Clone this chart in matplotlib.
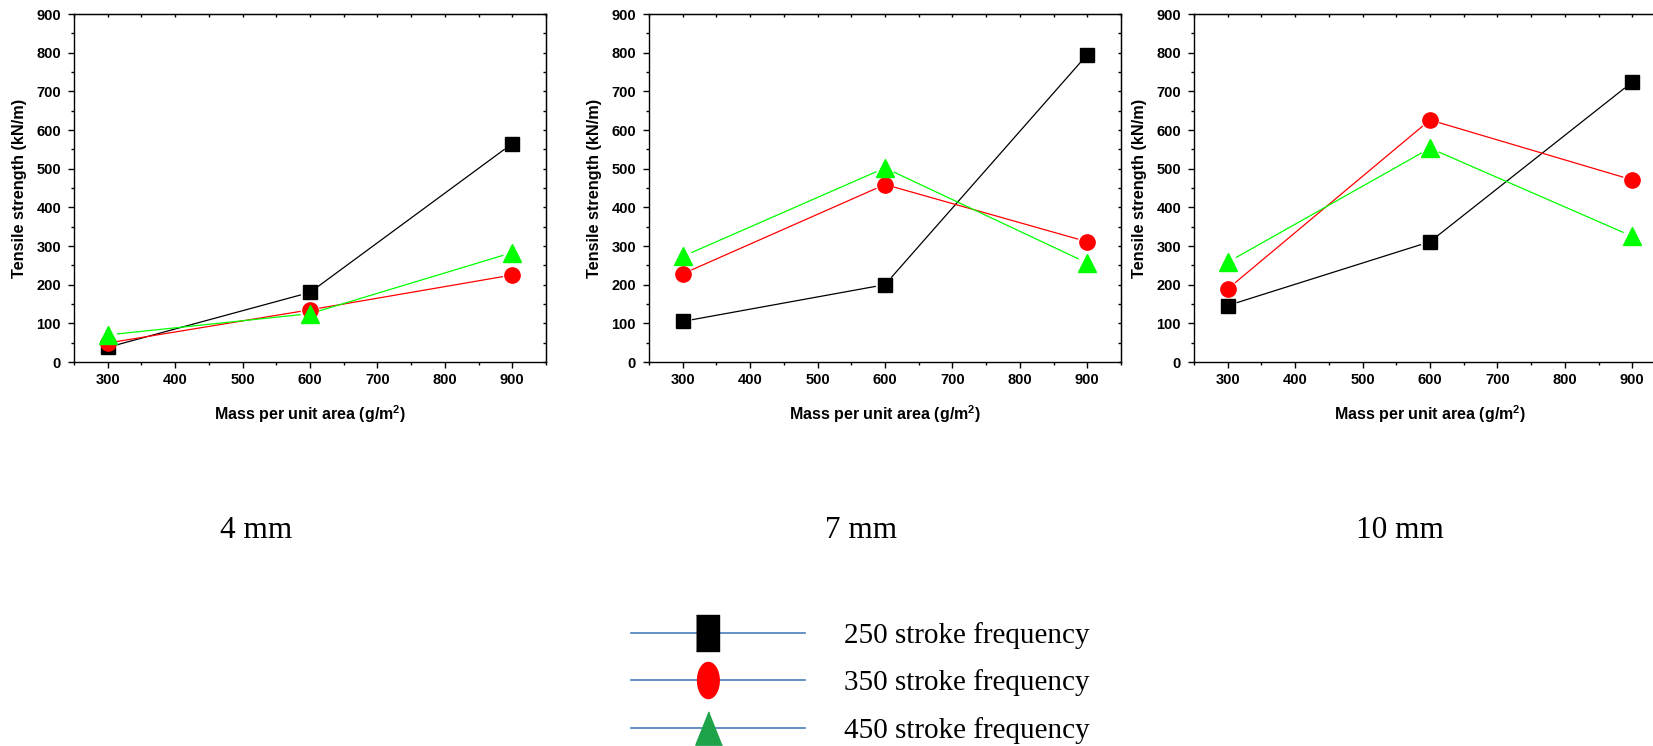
import numpy as np
import matplotlib
matplotlib.use("Agg")
import matplotlib.pyplot as plt
from matplotlib.lines import Line2D
from matplotlib.markers import MarkerStyle
from matplotlib.transforms import Affine2D
from matplotlib.ticker import MultipleLocator

plt.rcParams['font.family'] = ['Liberation Sans', 'DejaVu Sans']
plt.rcParams['mathtext.fontset'] = 'custom'
plt.rcParams['mathtext.rm'] = 'Liberation Sans'
plt.rcParams['mathtext.bf'] = 'Liberation Sans:bold'

# tensile strength (kN/m) vs mass per unit area, one panel per needle depth
mass = [300, 600, 900]
depths = ['4 mm', '7 mm', '10 mm']
freq_labels = ['250 stroke frequency', '350 stroke frequency', '450 stroke frequency']

s250_4mm = [38, 180, 565]
s350_4mm = [49, 135, 225]
s450_4mm = [70, 125, 283]

s250_7mm = [105, 200, 795]
s350_7mm = [228, 459, 311]
s450_7mm = [273, 502, 256]

s250_10mm = [146, 311, 724]
s350_10mm = [189, 626, 471]
s450_10mm = [258, 553, 325]

panels = [
    [s250_4mm, s350_4mm, s450_4mm],
    [s250_7mm, s350_7mm, s450_7mm],
    [s250_10mm, s350_10mm, s450_10mm],
]

colors = ['#000000', '#ff0000', '#00ff00']
markers = ['s', 'o', '^']
msizes = [10, 11, 12.5]

W, H = 1653, 746
fig = plt.figure(figsize=(W / 100, H / 100), dpi=100)

# axes boxes in pixels: left, width
boxes = [(74, 472), (649, 472), (1194, 472)]
ax_bottom, ax_top = 362, 14
title_x = [256, 861, 1400]


def gap_line(ax, x, y, color, gap=10):
    # Origin-style line: segments stop short of the markers
    pts = ax.transData.transform(np.column_stack([x, y]))
    inv = ax.transData.inverted()
    for p0, p1 in zip(pts[:-1], pts[1:]):
        d = p1 - p0
        u = d / np.hypot(*d)
        seg = inv.transform(np.array([p0 + u * gap, p1 - u * gap]))
        ax.plot(seg[:, 0], seg[:, 1], color=color, lw=0.9, zorder=2)


for i, (left, width) in enumerate(boxes):
    ax = fig.add_axes([left / W, 1 - ax_bottom / H, width / W, (ax_bottom - ax_top) / H])
    ax.set_xlim(250, 950)
    ax.set_ylim(0, 900)
    ax.xaxis.set_major_locator(MultipleLocator(100))
    ax.xaxis.set_minor_locator(MultipleLocator(50))
    ax.yaxis.set_major_locator(MultipleLocator(100))
    ax.yaxis.set_minor_locator(MultipleLocator(50))
    ax.set_xticks([300, 400, 500, 600, 700, 800, 900])

    for sp in ax.spines.values():
        sp.set_linewidth(1.0)
    ax.tick_params(which='major', direction='out', length=4.3, width=1.0, pad=5,
                   labelsize=10.5)
    ax.tick_params(axis='x', which='major', pad=3.5)
    ax.tick_params(which='minor', direction='out', length=2.2, width=1.0)
    for lab in ax.get_xticklabels() + ax.get_yticklabels():
        lab.set_fontweight('bold')

    # mirrored inward ticks on top and right
    sx = ax.secondary_xaxis('top')
    sx.xaxis.set_major_locator(MultipleLocator(100))
    sx.xaxis.set_minor_locator(MultipleLocator(50))
    sx.tick_params(which='both', direction='in', length=2.2, width=1.0, labeltop=False)
    sy = ax.secondary_yaxis('right')
    sy.yaxis.set_major_locator(MultipleLocator(100))
    sy.yaxis.set_minor_locator(MultipleLocator(50))
    sy.tick_params(which='both', direction='in', length=2.2, width=1.0, labelright=False)

    for vals, c, m, ms in zip(panels[i], colors, markers, msizes):
        gap_line(ax, mass, vals, c)
        ax.plot(mass, vals, ls='none', marker=m, ms=ms, color=c, mec=c, zorder=3,
                clip_on=False)

    ax.set_ylabel('Tensile strength (kN/m)', fontsize=11.7, fontweight='bold')
    ax.yaxis.set_label_coords(-47 / width, 0.5)
    ax.set_xlabel(r'Mass per unit area (g/m$^{\mathbf{2}}$)', fontsize=11.5,
                  fontweight='bold')
    ax.xaxis.set_label_coords(0.5, -41 / (ax_bottom - ax_top))

    fig.text(title_x[i] / W, 1 - 530 / H, depths[i], ha='center', va='center',
             fontsize=22.5, family='Liberation Serif')

# legend: stretched markers sitting a little left of the middle of blue lines
rect = [(-0.32, -0.5), (0.32, -0.5), (0.32, 0.5), (-0.32, 0.5)]
t = np.linspace(0, 2 * np.pi, 60)
ellipse = list(zip(0.3 * np.cos(t), 0.5 * np.sin(t)))
tri = [(0, 0.5), (-0.4, -0.5), (0.4, -0.5)]
leg_faces = ['#000000', '#ff0000', '#1ea34a']
leg_sizes = [26, 26, 24]
shift = Affine2D().translate(-0.28, 0)
handles = [
    Line2D([], [], color='#4a7ebb', lw=1.2,
           marker=MarkerStyle(mk, transform=shift), ms=ms, mfc=fc, mec=fc)
    for mk, fc, ms in zip([rect, ellipse, tri], leg_faces, leg_sizes)
]
fig.legend(handles, freq_labels, loc='upper left',
           bbox_to_anchor=(631 / W, 1 - 622 / H), frameon=False,
           prop={'family': 'Liberation Serif', 'size': 21},
           handlelength=5.95, handletextpad=1.35, labelspacing=0.7,
           borderpad=0, borderaxespad=0)

fig.savefig('out.png', dpi=100)
